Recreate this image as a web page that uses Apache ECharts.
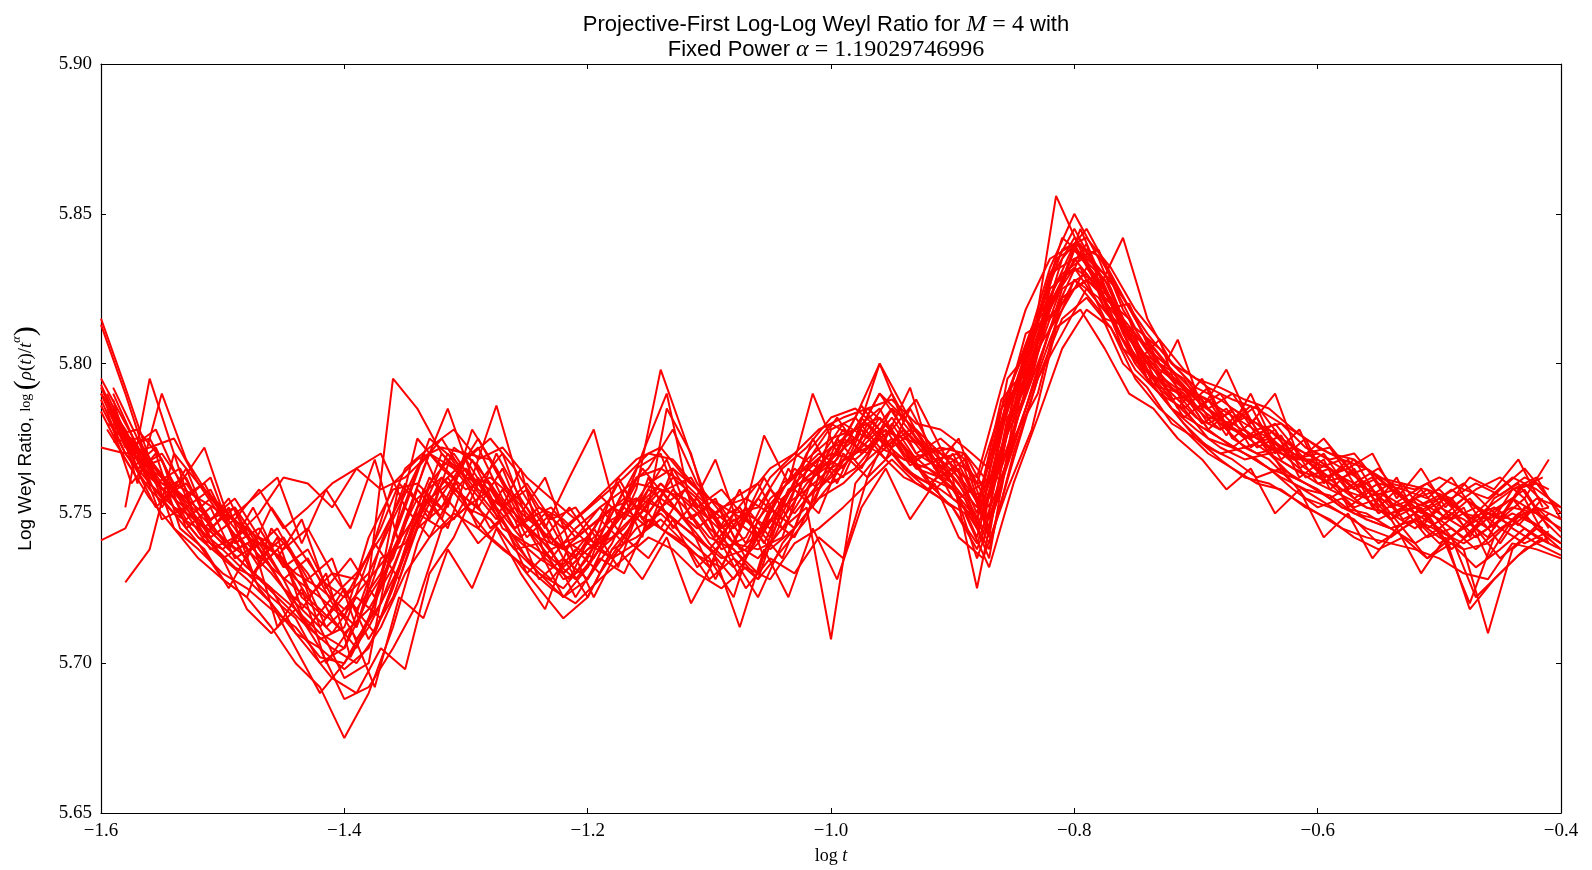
<!DOCTYPE html>
<html>
<head>
<meta charset="utf-8">
<script src="https://cdn.jsdelivr.net/npm/echarts@6/dist/echarts.min.js"></script>
<style>
html,body{margin:0;padding:0;background:#fff;}
#chart{width:1592px;height:870px;}
</style>
</head>
<body>
<div id="chart"></div>
<script>
// x grid A (log t)
const xs = [-1.60,-1.58,-1.56,-1.54,-1.52,-1.50,-1.48,-1.46,-1.44,-1.42,
  -1.40,-1.38,-1.36,-1.34,-1.32,-1.30,-1.28,-1.26,-1.24,-1.22,
  -1.20,-1.18,-1.16,-1.14,-1.12,-1.10,-1.08,-1.06,-1.04,-1.02,
  -1.00,-0.98,-0.96,-0.94,-0.92,-0.90,-0.88,-0.86,-0.84,-0.82,
  -0.80,-0.78,-0.76,-0.74,-0.72,-0.70,-0.68,-0.66,-0.64,-0.62,
  -0.60,-0.58,-0.56,-0.54,-0.52,-0.50,-0.48,-0.46,-0.44,-0.42,-0.40];
// x grid B (log t), offset samples
const xsB = [-1.59,-1.57,-1.55,-1.53,-1.51,-1.49,-1.47,-1.45,-1.43,-1.41,
  -1.39,-1.37,-1.35,-1.33,-1.31,-1.29,-1.27,-1.25,-1.23,-1.21,
  -1.19,-1.17,-1.15,-1.13,-1.11,-1.09,-1.07,-1.05,-1.03,-1.01,
  -0.99,-0.97,-0.95,-0.93,-0.91,-0.89,-0.87,-0.85,-0.83,-0.81,
  -0.79,-0.77,-0.75,-0.73,-0.71,-0.69,-0.67,-0.65,-0.63,-0.61,
  -0.59,-0.57,-0.55,-0.53,-0.51,-0.49,-0.47,-0.45,-0.43,-0.41];
// x grid C (log t), second offset
const xsC = [-1.595,-1.575,-1.555,-1.535,-1.515,-1.495,-1.475,-1.455,-1.435,-1.415,
  -1.395,-1.375,-1.355,-1.335,-1.315,-1.295,-1.275,-1.255,-1.235,-1.215,
  -1.195,-1.175,-1.155,-1.135,-1.115,-1.095,-1.075,-1.055,-1.035,-1.015,
  -0.995,-0.975,-0.955,-0.935,-0.915,-0.895,-0.875,-0.855,-0.835,-0.815,
  -0.795,-0.775,-0.755,-0.735,-0.715,-0.695,-0.675,-0.655,-0.635,-0.615,
  -0.595,-0.575,-0.555,-0.535,-0.515,-0.495,-0.475,-0.455,-0.435,-0.415];

const s1 = [5.815,5.792,5.768,5.745,5.735,5.728,5.722,5.712,5.700,5.692,
  5.675,5.690,5.712,5.740,5.760,5.768,5.755,5.740,5.730,5.725,
  5.735,5.750,5.765,5.770,5.748,5.738,5.728,5.742,5.760,5.765,
  5.772,5.778,5.785,5.770,5.762,5.758,5.745,5.770,5.800,5.830,
  5.845,5.830,5.812,5.800,5.792,5.785,5.778,5.782,5.770,5.765,
  5.762,5.758,5.752,5.750,5.745,5.752,5.748,5.742,5.755,5.750,5.742];
const s2 = [5.813,5.790,5.765,5.752,5.748,5.740,5.732,5.725,5.710,5.705,
  5.698,5.705,5.725,5.748,5.770,5.760,5.745,5.752,5.738,5.722,
  5.728,5.740,5.758,5.798,5.775,5.752,5.735,5.728,5.752,5.770,
  5.780,5.775,5.790,5.782,5.772,5.768,5.750,5.785,5.795,5.818,
  5.835,5.838,5.818,5.805,5.795,5.788,5.782,5.775,5.778,5.770,
  5.765,5.768,5.758,5.755,5.750,5.745,5.752,5.735,5.748,5.752,5.748];
const s3 = [5.795,5.780,5.765,5.752,5.742,5.735,5.728,5.720,5.705,5.690,
  5.700,5.712,5.728,5.745,5.752,5.762,5.760,5.748,5.742,5.738,
  5.745,5.752,5.748,5.758,5.755,5.748,5.740,5.735,5.745,5.752,
  5.708,5.760,5.770,5.778,5.770,5.772,5.760,5.762,5.785,5.812,
  5.828,5.822,5.808,5.795,5.788,5.790,5.780,5.772,5.775,5.768,
  5.768,5.762,5.758,5.748,5.755,5.750,5.745,5.750,5.755,5.745,5.738];
const s4 = [5.793,5.775,5.760,5.750,5.745,5.738,5.730,5.722,5.715,5.700,
  5.705,5.722,5.735,5.758,5.748,5.770,5.768,5.752,5.745,5.730,
  5.738,5.745,5.762,5.765,5.760,5.752,5.745,5.755,5.748,5.760,
  5.768,5.782,5.800,5.785,5.770,5.762,5.752,5.788,5.798,5.822,
  5.840,5.825,5.805,5.798,5.790,5.782,5.778,5.785,5.770,5.772,
  5.760,5.762,5.755,5.760,5.752,5.748,5.755,5.750,5.748,5.755,5.752];
const s5 = [5.772,5.770,5.772,5.775,5.760,5.752,5.742,5.738,5.730,5.725,
  5.718,5.728,5.738,5.755,5.762,5.752,5.758,5.745,5.750,5.735,
  5.722,5.738,5.748,5.760,5.752,5.740,5.732,5.740,5.755,5.762,
  5.770,5.768,5.775,5.768,5.765,5.760,5.742,5.772,5.790,5.825,
  5.832,5.820,5.812,5.798,5.785,5.778,5.772,5.768,5.770,5.762,
  5.758,5.752,5.750,5.745,5.748,5.742,5.738,5.740,5.748,5.742,5.738];
const s6 = [null,5.752,5.795,5.770,5.745,5.735,5.740,5.732,5.718,5.708,
  5.712,5.735,5.760,5.768,5.772,5.770,5.760,5.745,5.752,5.748,
  5.740,5.735,5.745,5.750,5.742,5.735,5.722,5.748,5.758,5.768,
  5.775,5.778,5.782,5.772,5.760,5.765,5.760,5.785,5.805,5.832,
  5.850,5.835,5.815,5.805,5.798,5.785,5.790,5.778,5.772,5.768,
  5.770,5.765,5.760,5.752,5.755,5.758,5.750,5.745,5.758,5.760,5.750];
const s7 = [null,5.727,5.738,5.770,5.760,5.748,5.738,5.730,5.720,5.712,
  5.725,5.708,5.722,5.745,5.762,5.755,5.748,5.738,5.740,5.728,
  5.732,5.752,5.755,5.745,5.740,5.732,5.750,5.745,5.735,5.755,
  5.762,5.770,5.778,5.765,5.758,5.752,5.738,5.760,5.792,5.815,
  5.838,5.828,5.815,5.795,5.785,5.780,5.775,5.770,5.765,5.758,
  5.752,5.755,5.748,5.745,5.740,5.745,5.738,5.710,5.738,5.745,5.740];
const s8 = [5.741,5.745,5.762,5.758,5.750,5.742,5.735,5.752,5.740,5.728,
  5.722,5.730,5.748,5.765,5.775,5.762,5.758,5.748,5.728,5.735,
  5.728,5.745,5.760,5.758,5.748,5.752,5.740,5.738,5.742,5.765,
  5.760,5.775,5.790,5.778,5.768,5.760,5.735,5.758,5.798,5.828,
  5.842,5.832,5.822,5.808,5.798,5.790,5.785,5.780,5.775,5.770,
  5.765,5.758,5.755,5.748,5.752,5.756,5.750,5.748,5.752,5.750,5.745];
const s9 = [5.788,5.770,5.758,5.750,5.740,5.728,5.722,5.745,5.735,5.712,
  5.695,5.700,5.742,5.775,5.765,5.758,5.762,5.755,5.745,5.738,
  5.742,5.735,5.740,5.752,5.758,5.745,5.738,5.728,5.738,5.748,
  5.778,5.782,5.772,5.768,5.770,5.755,5.748,5.780,5.810,5.815,
  5.825,5.830,5.810,5.795,5.785,5.775,5.770,5.772,5.768,5.760,
  5.755,5.750,5.745,5.742,5.748,5.740,5.745,5.752,5.745,5.740,5.736];
const s10 = [5.790,5.778,5.762,5.755,5.748,5.740,5.732,5.725,5.718,5.710,
  5.705,5.728,5.795,5.785,5.770,5.762,5.752,5.742,5.735,5.730,
  5.738,5.742,5.750,5.745,5.758,5.748,5.755,5.760,5.745,5.758,
  5.772,5.775,5.770,5.762,5.758,5.770,5.755,5.768,5.802,5.830,
  5.835,5.825,5.842,5.815,5.800,5.792,5.788,5.782,5.778,5.772,
  5.768,5.762,5.765,5.758,5.752,5.755,5.760,5.752,5.758,5.762,5.748];
const s11 = [5.792,5.775,5.768,5.758,5.748,5.735,5.718,5.710,5.718,5.705,
  5.688,5.692,5.705,5.720,5.745,5.752,5.742,5.735,5.725,5.715,
  5.722,5.738,5.742,5.748,5.740,5.728,5.735,5.722,5.740,5.750,
  5.760,5.765,5.775,5.765,5.760,5.752,5.740,5.762,5.785,5.808,
  5.828,5.818,5.800,5.792,5.780,5.775,5.768,5.762,5.760,5.755,
  5.750,5.745,5.742,5.740,5.738,5.735,5.730,5.728,5.740,5.738,5.735];
const s12 = [5.790,5.772,5.775,5.760,5.755,5.750,5.745,5.738,5.728,5.722,
  5.715,5.742,5.758,5.760,5.752,5.768,5.775,5.765,5.752,5.745,
  5.752,5.760,5.768,5.772,5.762,5.755,5.750,5.752,5.765,5.772,
  5.782,5.785,5.778,5.775,5.772,5.768,5.762,5.792,5.818,5.835,
  5.840,5.836,5.822,5.810,5.800,5.795,5.792,5.788,5.785,5.778,
  5.772,5.768,5.765,5.760,5.758,5.762,5.758,5.755,5.762,5.758,5.752];
const s13 = [5.786,5.770,5.760,5.752,5.742,5.738,5.745,5.732,5.725,5.718,
  5.710,5.718,5.732,5.752,5.758,5.765,5.755,5.750,5.742,5.732,
  5.740,5.748,5.752,5.760,5.752,5.742,5.738,5.730,5.755,5.762,
  5.768,5.775,5.800,5.780,5.770,5.762,5.725,5.765,5.790,5.818,
  5.838,5.828,5.812,5.802,5.792,5.786,5.780,5.776,5.770,5.765,
  5.760,5.756,5.752,5.750,5.752,5.748,5.742,5.750,5.746,5.752,5.744];
const s14 = [5.784,5.768,5.755,5.745,5.738,5.730,5.725,5.718,5.712,5.702,
  5.700,5.715,5.738,5.750,5.745,5.752,5.748,5.738,5.730,5.722,
  5.732,5.745,5.755,5.752,5.745,5.738,5.748,5.742,5.752,5.758,
  5.765,5.770,5.782,5.772,5.765,5.758,5.748,5.772,5.795,5.820,
  5.832,5.826,5.808,5.798,5.788,5.780,5.775,5.770,5.765,5.762,
  5.758,5.752,5.748,5.745,5.748,5.744,5.740,5.745,5.750,5.746,5.740];

const b1 = [5.788,5.760,5.790,5.768,5.755,5.748,5.758,5.745,5.752,5.760,
  5.765,5.758,5.762,5.770,5.762,5.775,5.760,5.752,5.740,5.748,
  5.756,5.748,5.760,5.765,5.752,5.758,5.748,5.762,5.770,5.765,
  5.778,5.772,5.782,5.770,5.775,5.768,5.742,5.790,5.812,5.828,
  5.840,5.815,5.810,5.798,5.792,5.788,5.780,5.786,5.775,5.770,
  5.772,5.760,5.765,5.755,5.760,5.752,5.758,5.762,5.755,5.768];
const b2 = [5.780,5.770,5.752,5.765,5.745,5.752,5.735,5.742,5.728,5.735,
  5.712,5.740,5.760,5.748,5.772,5.766,5.752,5.758,5.742,5.735,
  5.748,5.740,5.762,5.745,5.755,5.740,5.752,5.742,5.758,5.750,
  5.770,5.762,5.780,5.768,5.772,5.758,5.755,5.778,5.800,5.822,
  5.828,5.822,5.800,5.808,5.785,5.792,5.775,5.782,5.768,5.775,
  5.758,5.765,5.752,5.760,5.748,5.755,5.745,5.752,5.758,5.745];
const b3 = [5.785,5.765,5.768,5.750,5.738,5.742,5.725,5.715,5.705,5.695,
  5.690,5.705,5.698,5.730,5.742,5.760,5.748,5.735,5.728,5.738,
  5.730,5.742,5.735,5.748,5.732,5.740,5.725,5.735,5.730,5.742,
  5.735,5.762,5.770,5.762,5.758,5.752,5.738,5.770,5.795,5.815,
  5.822,5.812,5.798,5.790,5.780,5.772,5.768,5.762,5.765,5.755,
  5.752,5.748,5.740,5.745,5.735,5.742,5.722,5.730,5.738,5.742];
const b4 = [5.782,5.768,5.762,5.752,5.758,5.742,5.750,5.762,5.760,5.752,
  5.765,5.770,5.752,5.775,5.768,5.760,5.770,5.748,5.752,5.742,
  5.752,5.758,5.745,5.765,5.758,5.745,5.755,5.750,5.765,5.758,
  5.772,5.785,5.778,5.788,5.772,5.770,5.760,5.795,5.815,5.842,
  5.835,5.828,5.812,5.805,5.796,5.785,5.790,5.778,5.780,5.772,
  5.768,5.770,5.760,5.758,5.755,5.762,5.750,5.758,5.765,5.755];
const b5 = [5.778,5.772,5.760,5.755,5.762,5.740,5.745,5.732,5.738,5.722,
  5.730,5.742,5.758,5.750,5.762,5.745,5.758,5.742,5.750,5.730,
  5.742,5.758,5.765,5.778,5.760,5.750,5.735,5.752,5.745,5.768,
  5.762,5.780,5.772,5.778,5.765,5.755,5.735,5.782,5.805,5.818,
  5.832,5.822,5.805,5.800,5.792,5.780,5.784,5.772,5.776,5.762,
  5.765,5.755,5.760,5.748,5.752,5.742,5.750,5.740,5.752,5.748];
const b6 = [5.776,5.778,5.768,5.745,5.752,5.735,5.740,5.728,5.712,5.722,
  5.708,5.720,5.742,5.762,5.752,5.740,5.748,5.730,5.738,5.722,
  5.735,5.730,5.748,5.742,5.736,5.732,5.748,5.738,5.745,5.755,
  5.760,5.768,5.775,5.765,5.768,5.760,5.748,5.772,5.798,5.825,
  5.830,5.818,5.808,5.795,5.782,5.788,5.775,5.770,5.772,5.765,
  5.760,5.752,5.755,5.745,5.750,5.738,5.745,5.735,5.742,5.750];
const b7 = [5.792,5.775,5.755,5.760,5.748,5.752,5.740,5.735,5.722,5.730,
  5.718,5.730,5.752,5.742,5.758,5.752,5.765,5.745,5.735,5.745,
  5.752,5.742,5.758,5.752,5.745,5.752,5.740,5.755,5.762,5.770,
  5.765,5.778,5.790,5.775,5.762,5.768,5.752,5.785,5.808,5.835,
  5.845,5.830,5.815,5.800,5.795,5.782,5.780,5.775,5.770,5.768,
  5.762,5.768,5.755,5.752,5.758,5.748,5.752,5.745,5.750,5.752];
const b8 = [5.783,5.765,5.770,5.758,5.742,5.748,5.738,5.725,5.718,5.710,
  5.722,5.715,5.738,5.760,5.770,5.758,5.752,5.760,5.748,5.752,
  5.740,5.752,5.745,5.758,5.750,5.738,5.742,5.758,5.750,5.760,
  5.775,5.770,5.785,5.778,5.770,5.762,5.745,5.775,5.790,5.822,
  5.828,5.820,5.802,5.792,5.790,5.778,5.772,5.778,5.765,5.760,
  5.755,5.760,5.750,5.755,5.745,5.750,5.742,5.748,5.755,5.740];
const b9 = [5.790,5.772,5.762,5.748,5.755,5.745,5.732,5.740,5.730,5.715,
  5.705,5.725,5.748,5.770,5.765,5.772,5.755,5.745,5.738,5.742,
  5.748,5.755,5.750,5.762,5.755,5.745,5.750,5.745,5.760,5.768,
  5.780,5.775,5.785,5.770,5.765,5.770,5.755,5.788,5.815,5.830,
  5.836,5.825,5.805,5.796,5.790,5.778,5.785,5.780,5.772,5.768,
  5.765,5.758,5.762,5.755,5.752,5.758,5.752,5.748,5.760,5.752];
const b10 = [5.786,5.768,5.758,5.762,5.745,5.738,5.742,5.728,5.735,5.720,
  5.712,5.735,5.740,5.755,5.748,5.762,5.745,5.740,5.735,5.728,
  5.738,5.745,5.755,5.748,5.742,5.735,5.738,5.748,5.742,5.758,
  5.768,5.772,5.778,5.765,5.762,5.755,5.740,5.768,5.795,5.810,
  5.825,5.815,5.800,5.790,5.785,5.775,5.772,5.768,5.762,5.758,
  5.756,5.750,5.748,5.752,5.742,5.745,5.738,5.745,5.740,5.744];
const b11 = [5.774,5.775,5.762,5.755,5.748,5.755,5.742,5.738,5.745,5.730,
  5.728,5.745,5.765,5.772,5.778,5.768,5.772,5.762,5.755,5.748,
  5.755,5.762,5.770,5.768,5.758,5.752,5.755,5.765,5.770,5.778,
  5.782,5.785,5.788,5.780,5.778,5.772,5.765,5.790,5.815,5.838,
  5.842,5.832,5.818,5.808,5.798,5.792,5.788,5.785,5.780,5.775,
  5.770,5.768,5.762,5.760,5.758,5.755,5.760,5.756,5.762,5.758];
const b12 = [5.781,5.770,5.748,5.752,5.740,5.732,5.728,5.720,5.712,5.705,
  5.700,5.712,5.730,5.742,5.750,5.745,5.738,5.732,5.725,5.720,
  5.728,5.735,5.742,5.738,5.730,5.725,5.732,5.728,5.740,5.745,
  5.752,5.760,5.768,5.760,5.755,5.750,5.732,5.760,5.782,5.805,
  5.818,5.812,5.795,5.785,5.778,5.770,5.765,5.760,5.758,5.752,
  5.748,5.742,5.738,5.742,5.735,5.740,5.732,5.738,5.745,5.740];

const c1 = [5.790,5.772,5.778,5.760,5.772,5.748,5.755,5.762,5.740,5.758,
  5.745,5.768,5.740,5.765,5.785,5.762,5.786,5.758,5.745,5.762,
  5.778,5.748,5.770,5.790,5.752,5.768,5.745,5.776,5.760,5.790,
  5.770,5.786,5.775,5.792,5.765,5.775,5.752,5.795,5.805,5.856,
  5.838,5.822,5.815,5.792,5.808,5.785,5.798,5.780,5.790,5.768,
  5.775,5.765,5.770,5.755,5.765,5.752,5.762,5.758,5.768,5.752];
const c2 = [5.784,5.760,5.770,5.745,5.738,5.725,5.740,5.712,5.725,5.700,
  5.712,5.692,5.722,5.715,5.738,5.725,5.745,5.730,5.718,5.740,
  5.722,5.738,5.728,5.742,5.720,5.735,5.712,5.738,5.722,5.745,
  5.728,5.752,5.765,5.748,5.760,5.742,5.735,5.758,5.778,5.812,
  5.818,5.805,5.790,5.785,5.775,5.768,5.758,5.765,5.750,5.758,
  5.742,5.750,5.735,5.745,5.730,5.742,5.718,5.728,5.736,5.742];
const c3 = [5.787,5.768,5.752,5.760,5.742,5.752,5.730,5.742,5.718,5.730,
  5.702,5.718,5.760,5.752,5.770,5.758,5.748,5.765,5.735,5.728,
  5.745,5.760,5.742,5.785,5.770,5.742,5.758,5.735,5.752,5.775,
  5.760,5.778,5.768,5.785,5.770,5.760,5.745,5.790,5.812,5.822,
  5.845,5.826,5.808,5.800,5.785,5.795,5.778,5.786,5.770,5.778,
  5.760,5.768,5.752,5.762,5.745,5.756,5.742,5.755,5.760,5.748];
const c4 = [5.780,5.775,5.760,5.765,5.750,5.738,5.752,5.735,5.748,5.725,
  5.735,5.722,5.748,5.770,5.752,5.778,5.765,5.750,5.762,5.740,
  5.735,5.750,5.765,5.755,5.745,5.728,5.745,5.762,5.748,5.770,
  5.782,5.770,5.778,5.766,5.772,5.755,5.760,5.788,5.800,5.835,
  5.840,5.818,5.820,5.802,5.792,5.788,5.776,5.790,5.772,5.765,
  5.770,5.758,5.762,5.750,5.758,5.748,5.755,5.745,5.758,5.762];
const c5 = [5.785,5.770,5.765,5.752,5.745,5.755,5.738,5.745,5.730,5.712,
  5.720,5.710,5.732,5.758,5.745,5.768,5.752,5.742,5.750,5.735,
  5.745,5.732,5.755,5.768,5.748,5.755,5.738,5.745,5.765,5.752,
  5.775,5.765,5.780,5.770,5.758,5.765,5.740,5.782,5.795,5.828,
  5.832,5.815,5.812,5.796,5.790,5.780,5.785,5.772,5.778,5.762,
  5.768,5.752,5.758,5.745,5.752,5.740,5.720,5.742,5.750,5.745];
const c6 = [5.778,5.765,5.772,5.755,5.760,5.745,5.730,5.738,5.722,5.715,
  5.725,5.740,5.728,5.752,5.762,5.750,5.770,5.755,5.742,5.752,
  5.740,5.762,5.748,5.758,5.762,5.748,5.752,5.740,5.758,5.762,
  5.768,5.782,5.772,5.778,5.768,5.770,5.748,5.785,5.810,5.818,
  5.836,5.828,5.810,5.805,5.795,5.786,5.780,5.775,5.780,5.770,
  5.762,5.765,5.756,5.758,5.750,5.755,5.748,5.752,5.746,5.755];

const groupA = [s1,s2,s3,s4,s5,s6,s7,s8,s9,s10,s11,s12,s13,s14];
const groupB = [b1,b2,b3,b4,b5,b6,b7,b8,b9,b10,b11,b12];
const groupC = [c1,c2,c3,c4,c5,c6];

const xMin = -1.6, xMax = -0.4, xStep = 0.2;
const yMin = 5.65, yMax = 5.90, yStep = 0.05;

const chart = echarts.init(document.getElementById('chart'), null, {renderer:'canvas'});

const serif = '"Liberation Serif", "DejaVu Serif", serif';
const sans = '"Liberation Sans", Arial, sans-serif';

function fmtX(v){ const a = Math.abs(v).toFixed(1); return (v < -1e-9 ? '\u2212' : '') + a; }
function fmtY(v){ return v.toFixed(2); }

const tickStyle = {show:true, inside:true, length:5, lineStyle:{color:'#000', width:1}};
const lineStyle = {show:true, lineStyle:{color:'#000', width:1.2}};

function mkSeries(xv, ys, name){
  return {
    type:'line', name:name,
    xAxisIndex:0, yAxisIndex:0,
    showSymbol:false, symbol:'none', silent:true, clip:true,
    lineStyle:{color:'#ff0000', width:2},
    itemStyle:{color:'#ff0000'},
    emphasis:{disabled:true},
    data: xv.map((x,i)=>[x, ys[i]]).filter(p => p[1] !== null)
  };
}

const series = groupA.map((ys,k)=>mkSeries(xs, ys, 'a'+(k+1)))
  .concat(groupB.map((ys,k)=>mkSeries(xsB, ys, 'b'+(k+1))))
  .concat(groupC.map((ys,k)=>mkSeries(xsC, ys, 'c'+(k+1))));

const option = {
  animation:false,
  backgroundColor:'#fff',
  title:{
    left:821, top:7, textAlign:'center',
    text:'{s|Projective-First Log-Log Weyl Ratio for }{mi|M}{m| = 4}{s| with}\n{s|Fixed Power }{mi|\u03b1}{m| = 1.19029746996}',
    textStyle:{
      fontWeight:'normal',
      rich:{
        s:{fontFamily:sans, fontSize:22, fontWeight:'normal', color:'#000', lineHeight:25},
        m:{fontFamily:serif, fontSize:24, fontWeight:'normal', color:'#000', lineHeight:25},
        mi:{fontFamily:serif, fontStyle:'italic', fontWeight:'normal', fontSize:24, color:'#000', lineHeight:25}
      }
    }
  },
  grid:{left:101, right:31, top:64, bottom:53, containLabel:false},
  xAxis:[{
    type:'value', min:xMin, max:xMax, interval:xStep, position:'bottom',
    axisLine:lineStyle, axisTick:tickStyle, splitLine:{show:false},
    axisLabel:{formatter:fmtX, fontFamily:serif, fontSize:19, color:'#000', margin:9},
    name:'{m|log }{mi|t}', nameLocation:'middle', nameGap:34,
    nameTextStyle:{rich:{
      m:{fontFamily:serif, fontSize:18, color:'#000'},
      mi:{fontFamily:serif, fontStyle:'italic', fontSize:18, color:'#000'}
    }}
  },{
    type:'value', min:xMin, max:xMax, interval:xStep, position:'top',
    axisLine:lineStyle, axisTick:tickStyle, axisLabel:{show:false}, splitLine:{show:false}
  }],
  yAxis:[{
    type:'value', min:yMin, max:yMax, interval:yStep, position:'left',
    axisLine:lineStyle, axisTick:tickStyle, splitLine:{show:false},
    axisLabel:{formatter:fmtY, fontFamily:serif, fontSize:19, color:'#000', margin:9},
    name:'{s|Log Weyl Ratio, }{lg|log }{p|(}{mi|\u03c1}{m|(}{mi|t}{m|)/}{mi|t}{sup|\u03b1}{p|)}',
    nameLocation:'middle', nameGap:60, nameRotate:90,
    nameTextStyle:{rich:{
      s:{fontFamily:sans, fontSize:19, color:'#000', lineHeight:30},
      lg:{fontFamily:serif, fontSize:14, color:'#000', lineHeight:30},
      m:{fontFamily:serif, fontSize:19, color:'#000', lineHeight:30},
      mi:{fontFamily:serif, fontStyle:'italic', fontSize:19, color:'#000', lineHeight:30},
      sup:{fontFamily:serif, fontStyle:'italic', fontSize:12, color:'#000', verticalAlign:'top', lineHeight:22},
      p:{fontFamily:serif, fontSize:30, color:'#000', lineHeight:30}
    }}
  },{
    type:'value', min:yMin, max:yMax, interval:yStep, position:'right',
    axisLine:lineStyle, axisTick:tickStyle, axisLabel:{show:false}, splitLine:{show:false}
  }],
  series: series
};
chart.setOption(option);
</script>
</body>
</html>
